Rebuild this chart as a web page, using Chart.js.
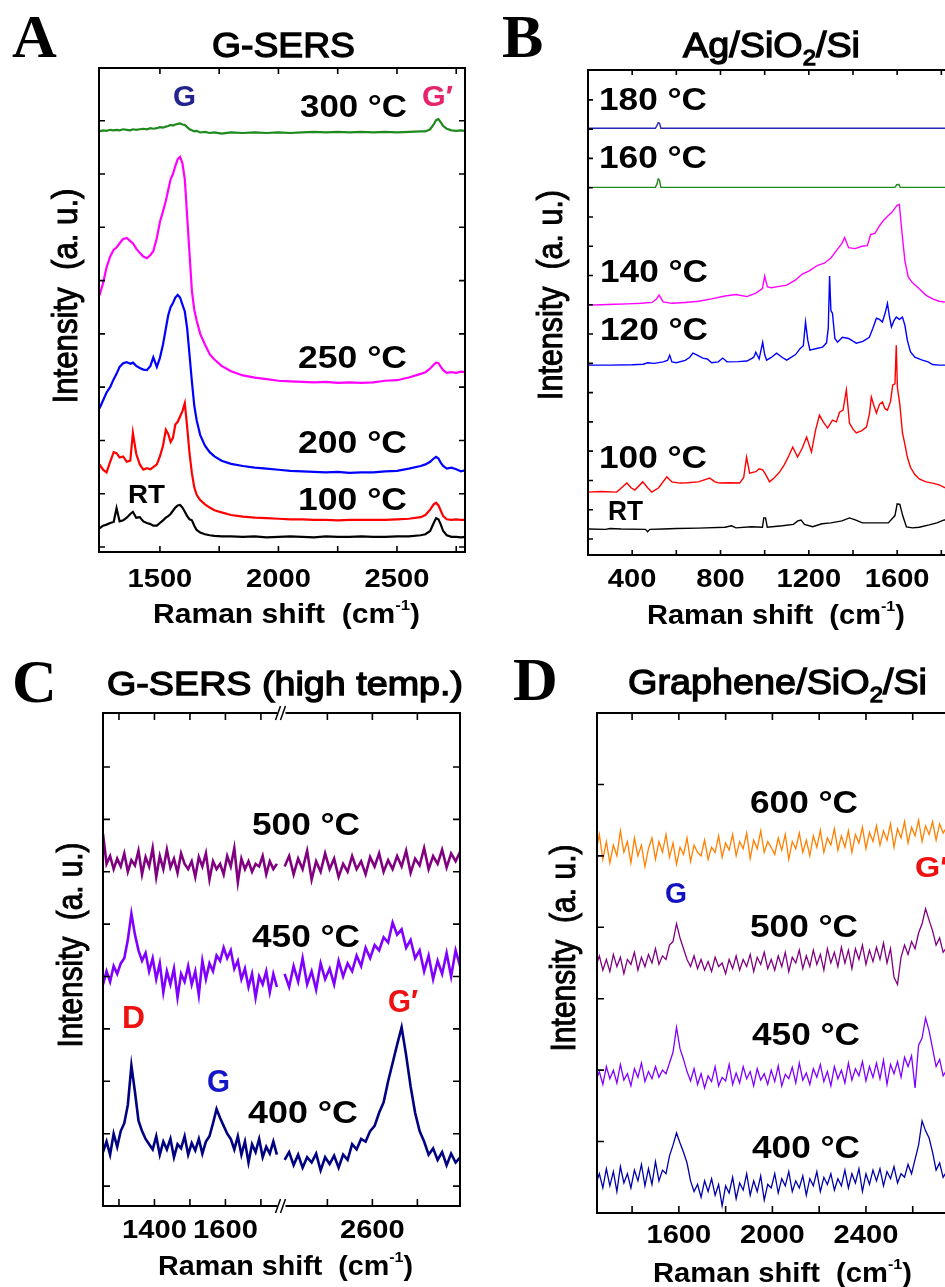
<!DOCTYPE html>
<html>
<head>
<meta charset="utf-8">
<script src="https://cdn.jsdelivr.net/npm/chart.js@4.4.1/dist/chart.umd.min.js"></script>
<style>
  html, body { margin: 0; padding: 0; overflow: hidden; background: #fff; width: 945px; height: 1287px; }
  canvas { position: absolute; }
</style>
</head>
<body>
<canvas id="pa" width="480" height="640" style="left:0;top:0;width:480px;height:640px"></canvas>
<canvas id="pb" width="545" height="640" style="left:480px;top:0;width:545px;height:640px"></canvas>
<canvas id="pc" width="480" height="647" style="left:0;top:640px;width:480px;height:647px"></canvas>
<canvas id="pd" width="545" height="647" style="left:480px;top:640px;width:545px;height:647px"></canvas>
<script>
// ---- panel A: G-SERS (shared x grid, cm-1) ----
const xA = [1245,1260,1275,1290,1305,1317,1330,1345,1360,1375,
  1386,1400,1415,1430,1445,1460,1472,1487,1500,1513,
  1525,1535,1545,1555,1565,1575,1585,1595,1605,1615,
  1625,1635,1645,1655,1670,1690,1710,1730,1760,1800,
  1850,1900,1950,2000,2050,2100,2150,2200,2250,2300,
  2350,2400,2450,2500,2550,2600,2620,2640,2655,2665,
  2675,2685,2695,2710,2730,2750,2770,2787];
const a300 = [7.80,7.82,7.81,7.83,7.82,7.83,7.82,7.84,7.83,7.82,
  7.84,7.83,7.84,7.85,7.84,7.86,7.85,7.86,7.88,7.87,
  7.89,7.90,7.92,7.91,7.93,7.94,7.95,7.93,7.92,7.88,
  7.84,7.82,7.80,7.81,7.78,7.79,7.77,7.78,7.76,7.78,
  7.77,7.78,7.77,7.78,7.77,7.78,7.79,7.78,7.79,7.78,
  7.79,7.78,7.79,7.78,7.79,7.80,7.80,7.84,7.93,8.01,
  8.03,7.97,7.90,7.85,7.82,7.81,7.82,7.81];
const a250 = [4.72,4.95,5.25,5.45,5.58,5.62,5.70,5.78,5.80,5.74,
  5.70,5.60,5.52,5.45,5.42,5.48,5.55,5.80,6.10,6.30,
  6.50,6.70,6.90,7.00,7.15,7.28,7.32,7.20,6.90,6.20,
  5.50,4.80,4.45,4.25,4.00,3.80,3.62,3.52,3.40,3.30,
  3.22,3.18,3.15,3.12,3.11,3.10,3.09,3.10,3.08,3.09,
  3.08,3.09,3.12,3.13,3.18,3.25,3.28,3.35,3.42,3.46,
  3.45,3.38,3.32,3.27,3.28,3.27,3.29,3.28];
const a200 = [2.60,2.75,2.90,3.00,3.15,3.25,3.38,3.45,3.47,3.44,
  3.46,3.40,3.36,3.33,3.32,3.40,3.56,3.38,3.55,3.80,
  4.10,4.35,4.50,4.58,4.68,4.73,4.68,4.55,4.42,4.10,
  3.60,3.10,2.65,2.38,2.10,1.90,1.78,1.70,1.62,1.56,
  1.52,1.49,1.47,1.45,1.43,1.42,1.41,1.40,1.41,1.39,
  1.40,1.40,1.42,1.43,1.47,1.52,1.55,1.60,1.66,1.69,
  1.66,1.58,1.52,1.47,1.49,1.46,1.42,1.44];
const a100 = [1.55,1.45,1.40,1.60,1.78,1.76,1.68,1.70,1.60,1.62,
  2.14,1.75,1.55,1.45,1.48,1.46,1.50,1.55,1.70,1.90,
  2.20,2.12,1.97,2.05,2.30,2.35,2.45,2.55,2.70,2.25,
  1.75,1.38,1.12,0.98,0.88,0.80,0.74,0.69,0.65,0.60,
  0.57,0.55,0.54,0.53,0.52,0.52,0.51,0.51,0.50,0.51,
  0.51,0.51,0.51,0.52,0.53,0.56,0.60,0.70,0.80,0.83,
  0.78,0.68,0.58,0.52,0.51,0.52,0.51,0.51];
const aRT = [0.35,0.40,0.42,0.45,0.47,0.73,0.48,0.50,0.55,0.62,
  0.66,0.55,0.56,0.48,0.45,0.43,0.40,0.40,0.45,0.50,
  0.55,0.58,0.62,0.68,0.74,0.78,0.79,0.74,0.66,0.58,
  0.52,0.50,0.40,0.32,0.27,0.24,0.22,0.21,0.20,0.20,
  0.19,0.20,0.18,0.19,0.20,0.19,0.18,0.20,0.19,0.19,
  0.20,0.19,0.19,0.20,0.20,0.22,0.24,0.30,0.45,0.54,
  0.52,0.42,0.30,0.22,0.19,0.19,0.18,0.19];

// ---- panel B: Ag/SiO2/Si, [cm-1, intensity] ----
const b180 = [[200,14.03],[505,14.03],[512,14.12],[518,14.22],[524,14.2],[530,14.03],[2000,14.03]];
const b160 = [[200,12.01],[505,12.01],[512,12.12],[518,12.3],[524,12.25],[530,12.01],
  [1590,12.01],[1598,12.1],[1608,12.11],[1614,12.01],[2000,12.01]];
const b140 = [[200,7.99],[260,8.0],[320,8.02],[380,8.03],[440,8.05],[490,8.08],[510,8.2],[522,8.33],
  [540,8.1],[580,8.05],[640,8.08],[700,8.12],[760,8.2],[820,8.3],[870,8.35],[920,8.28],[960,8.4],
  [990,8.55],[1000,8.98],[1012,8.62],[1030,8.58],[1060,8.62],[1100,8.67],[1140,8.85],[1170,9.05],
  [1200,9.15],[1240,9.35],[1270,9.42],[1300,9.6],[1330,9.9],[1350,10.1],[1362,10.3],[1380,9.95],
  [1410,9.92],[1440,10.0],[1465,10.02],[1480,10.4],[1500,10.45],[1520,10.7],[1540,10.9],[1560,11.05],
  [1575,11.15],[1590,11.3],[1600,11.4],[1610,11.43],[1620,10.6],[1635,9.5],[1650,8.95],[1670,8.75],
  [1700,8.55],[1730,8.33],[1760,8.2],[1790,8.12],[1820,8.09],[2000,8.05]];
const b120 = [[200,5.94],[300,5.94],[400,5.95],[450,5.97],[470,6.02],[500,6.0],[540,6.05],[560,6.1],
  [570,6.28],[580,6.05],[600,6.02],[640,6.1],[660,6.2],[675,6.35],[690,6.3],[720,6.18],[740,6.15],
  [760,6.02],[790,6.05],[810,6.18],[830,6.05],[880,6.06],[920,6.08],[950,6.2],[960,6.38],[975,6.15],
  [991,6.72],[1000,6.3],[1009,6.11],[1030,6.2],[1054,6.35],[1080,6.2],[1100,6.11],[1140,6.3],
  [1160,6.5],[1175,6.6],[1185,7.41],[1195,6.8],[1205,6.45],[1230,6.5],[1262,6.55],[1280,6.7],
  [1288,7.2],[1294,8.98],[1300,7.8],[1307,7.71],[1318,6.85],[1330,6.72],[1352,6.89],[1380,6.85],
  [1415,6.69],[1445,6.75],[1474,6.89],[1490,7.2],[1506,7.54],[1520,7.5],[1533,7.41],[1545,7.7],
  [1556,8.05],[1565,7.6],[1574,7.24],[1585,7.45],[1596,7.58],[1610,7.5],[1624,7.58],[1635,7.3],
  [1646,6.79],[1660,6.4],[1680,6.21],[1714,6.11],[1740,6.05],[1760,5.96],[1790,5.94],[2000,5.94]];
const b100 = [[200,1.60],[260,1.62],[330,1.60],[376,1.91],[395,1.75],[412,1.67],[448,1.95],[470,1.75],
  [489,1.60],[520,1.75],[557,2.12],[580,1.95],[616,1.91],[650,1.92],[700,1.95],[751,2.08],[775,1.95],
  [796,1.91],[840,1.92],[887,1.91],[905,2.10],[918,2.80],[932,2.25],[960,2.30],[975,2.40],[991,2.36],
  [1005,2.20],[1022,1.95],[1045,2.10],[1068,2.29],[1090,2.55],[1110,2.85],[1127,3.14],[1149,2.80],
  [1170,3.10],[1190,3.48],[1212,2.97],[1230,3.70],[1248,4.23],[1265,4.00],[1285,3.79],[1307,4.06],
  [1325,4.00],[1339,4.33],[1355,4.40],[1370,5.09],[1384,3.96],[1400,3.75],[1415,3.62],[1440,3.70],
  [1461,3.82],[1475,4.30],[1483,4.85],[1495,4.55],[1506,4.30],[1520,4.60],[1533,4.68],[1545,4.45],
  [1556,4.40],[1570,4.70],[1580,5.26],[1590,5.30],[1596,6.62],[1601,5.19],[1612,4.60],[1624,3.62],
  [1636,3.20],[1646,2.80],[1660,2.45],[1680,2.20],[1700,2.05],[1730,1.95],[1760,1.91],[1790,1.85],
  [1820,1.74],[2000,1.70]];
const bRT = [[200,0.34],[280,0.33],[300,0.36],[350,0.34],[460,0.33],[470,0.25],[480,0.33],[540,0.34],
  [600,0.36],[700,0.37],[820,0.40],[850,0.45],[870,0.38],[940,0.42],[990,0.40],[996,0.72],[1004,0.72],
  [1012,0.40],[1080,0.45],[1130,0.50],[1150,0.62],[1165,0.65],[1180,0.50],[1217,0.42],[1260,0.52],
  [1300,0.55],[1350,0.62],[1384,0.72],[1410,0.65],[1443,0.55],[1500,0.55],[1560,0.55],[1590,0.80],
  [1600,1.20],[1612,1.18],[1625,0.80],[1642,0.41],[1669,0.38],[1700,0.40],[1745,0.48],[1780,0.55],
  [1813,0.65],[2000,0.70]];

// ---- panel C: G-SERS high temp., broken axis (left / right segment) ----
const xCL = [1255,1265,1275,1285,1295,1305,1315,1325,1335,1345,
  1355,1365,1375,1385,1395,1405,1415,1425,1435,1445,
  1455,1465,1475,1485,1495,1505,1515,1525,1535,1545,
  1555,1565,1575,1585,1595,1605,1615,1625,1635,1645,
  1655,1665,1675,1685,1695,1705,1715,1725,1735,1745];
const xCR = [2405,2415,2425,2435,2445,2455,2465,2475,2485,2495,
  2505,2515,2525,2535,2545,2555,2565,2575,2585,2595,
  2605,2615,2625,2635,2645,2655,2665,2675,2685,2695,
  2705,2715,2725,2735,2745,2755,2765,2775,2785,2795];
const c500L = [6.72,6.15,6.30,6.05,6.25,6.10,6.35,6.00,6.22,6.12,
  6.40,5.95,6.28,6.10,6.45,5.90,6.30,6.05,6.42,6.08,
  6.25,5.98,6.35,6.15,6.05,6.20,5.90,6.28,6.10,6.35,
  5.85,6.20,6.05,6.15,5.95,6.30,6.10,6.45,5.80,6.25,
  6.05,6.20,6.00,6.15,6.10,6.30,5.95,6.20,6.05,6.15];
const c500R = [6.10,6.30,5.95,6.25,6.05,6.40,5.85,6.20,6.00,6.35,
  6.05,6.25,5.90,6.15,6.00,6.30,6.05,6.20,5.95,6.28,
  6.10,6.35,6.00,6.22,6.05,6.30,6.10,6.40,5.98,6.25,
  6.12,6.45,6.05,6.30,6.15,6.42,6.08,6.35,6.20,6.38];
const c450L = [3.85,4.10,3.90,4.20,4.05,4.25,4.35,4.70,5.20,4.80,
  4.50,4.30,4.45,4.10,4.35,3.95,4.25,3.70,4.10,3.85,
  4.15,3.60,4.05,3.90,4.20,3.85,4.10,3.65,4.30,3.95,
  4.25,4.10,4.40,4.30,4.55,4.35,4.50,4.15,4.30,3.95,
  4.15,3.80,4.05,3.60,4.00,3.85,4.10,3.70,4.05,3.80];
const c450R = [4.05,3.80,4.20,3.90,4.35,3.85,4.10,3.75,4.25,3.95,
  4.15,3.85,4.30,4.00,4.25,4.10,4.40,4.20,4.55,4.35,
  4.60,4.50,4.75,4.65,5.03,4.80,4.90,4.55,4.70,4.35,
  4.50,4.10,4.40,3.95,4.30,4.05,4.45,4.00,4.50,4.20];
const c400L = [0.65,0.85,0.60,1.00,0.75,1.05,1.20,1.55,2.30,1.80,
  1.25,1.05,0.90,0.80,0.70,0.95,0.60,0.85,0.70,0.90,
  0.55,0.80,0.72,0.95,0.60,0.82,0.68,0.90,0.62,0.85,
  0.95,1.20,1.47,1.30,1.15,1.00,0.90,0.70,0.95,0.60,
  0.85,0.45,0.80,0.65,0.90,0.55,0.75,0.62,0.85,0.60];
const c400R = [0.50,0.65,0.40,0.60,0.35,0.55,0.45,0.62,0.30,0.55,
  0.42,0.58,0.35,0.60,0.50,0.80,0.70,0.90,0.85,1.05,
  1.15,1.40,1.60,2.00,2.35,2.70,3.03,2.50,1.90,1.40,
  1.05,0.85,0.60,0.72,0.50,0.65,0.40,0.62,0.45,0.55];

// ---- panel D: Graphene/SiO2/Si ----
const xD = [1245,1260,1275,1290,1305,1320,1335,1350,1365,1380,
  1395,1410,1425,1440,1455,1470,1485,1500,1515,1530,
  1545,1560,1575,1590,1605,1620,1635,1650,1665,1680,
  1695,1710,1725,1740,1755,1770,1785,1800,1815,1830,
  1845,1860,1875,1890,1905,1920,1935,1950,1965,1980,
  1995,2010,2025,2040,2055,2070,2085,2100,2115,2130,
  2145,2160,2175,2190,2205,2220,2235,2250,2265,2280,
  2295,2310,2325,2340,2355,2370,2385,2400,2415,2430,
  2445,2460,2475,2490,2505,2520,2535,2550,2565,2580,
  2595,2610,2625,2640,2655,2670,2685,2700,2715,2730,2745];
const d600 = [5.05,5.30,4.95,5.20,4.90,5.15,5.00,5.35,5.05,5.20,
  4.90,5.25,5.00,5.15,4.85,5.10,5.25,4.95,5.20,5.05,
  5.30,4.98,5.18,4.88,5.12,5.02,5.25,4.92,5.15,5.05,
  5.00,5.22,4.95,5.12,5.05,5.28,4.98,5.18,5.08,5.30,
  5.00,5.20,5.10,5.32,4.96,5.22,5.10,5.35,5.05,5.20,
  5.12,5.02,5.25,5.08,5.30,4.95,5.20,5.10,5.32,5.05,
  5.22,5.00,5.28,5.12,5.36,5.05,5.25,5.15,5.38,5.08,
  5.28,5.12,5.35,5.05,5.30,5.18,5.40,5.10,5.33,5.20,
  5.42,5.15,5.35,5.22,5.45,5.12,5.38,5.25,5.48,5.18,
  5.40,5.28,5.50,5.20,5.42,5.30,5.48,5.22,5.45,5.32,5.40];
const d500 = [3.45,3.60,3.40,3.55,3.38,3.62,3.45,3.58,3.35,3.55,
  3.48,3.65,3.40,3.58,3.45,3.62,3.50,3.70,3.48,3.60,
  3.55,3.75,3.80,4.05,3.85,3.70,3.55,3.45,3.60,3.42,
  3.55,3.40,3.52,3.38,3.58,3.45,3.50,3.35,3.55,3.42,
  3.60,3.40,3.55,3.45,3.62,3.38,3.58,3.48,3.65,3.42,
  3.55,3.40,3.60,3.45,3.65,3.38,3.58,3.50,3.68,3.42,
  3.60,3.45,3.68,3.48,3.62,3.40,3.70,3.50,3.65,3.45,
  3.72,3.50,3.68,3.42,3.70,3.55,3.75,3.48,3.68,3.52,
  3.72,3.55,3.78,3.50,3.70,3.30,3.20,3.58,3.75,3.62,
  3.80,3.70,3.92,4.05,4.26,4.10,3.95,3.75,3.85,3.65,3.72];
const d450 = [1.85,1.98,1.80,2.05,1.88,2.00,1.82,2.08,1.86,1.95,
  1.78,2.02,1.90,2.10,1.84,1.98,1.88,2.05,1.90,2.00,
  1.95,2.10,2.25,2.60,2.30,2.15,1.98,1.85,2.02,1.80,
  1.95,1.75,1.92,1.84,2.05,1.78,1.90,1.85,2.08,1.80,
  1.96,1.82,2.05,1.88,1.98,1.78,2.02,1.86,1.95,1.80,
  2.00,1.84,2.06,1.78,1.94,1.88,2.04,1.82,2.10,1.86,
  1.96,1.80,2.02,1.90,2.08,1.84,1.98,1.78,2.05,1.88,
  2.00,1.82,2.10,1.86,2.02,1.92,2.12,1.85,2.05,1.90,
  2.10,1.88,2.14,1.80,2.08,1.95,2.12,1.90,2.18,2.05,
  2.20,1.75,2.35,2.45,2.73,2.55,2.30,2.05,2.15,1.92,2.00];
const d400 = [0.40,0.55,0.35,0.62,0.38,0.58,0.30,0.65,0.42,0.55,
  0.35,0.60,0.45,0.68,0.38,0.62,0.40,0.72,0.45,0.60,
  0.55,0.80,0.95,1.12,0.98,0.85,0.70,0.45,0.30,0.40,
  0.22,0.45,0.30,0.48,0.25,0.40,0.10,0.38,0.28,0.50,
  0.20,0.42,0.32,0.55,0.25,0.45,0.30,0.52,0.18,0.40,
  0.35,0.55,0.28,0.48,0.38,0.58,0.30,0.45,0.35,0.52,
  0.25,0.48,0.38,0.58,0.30,0.50,0.40,0.55,0.32,0.48,
  0.38,0.60,0.35,0.55,0.42,0.62,0.30,0.55,0.40,0.60,
  0.45,0.62,0.38,0.58,0.48,0.65,0.42,0.55,0.50,0.68,
  0.55,0.75,0.95,1.29,1.15,1.05,0.85,0.60,0.70,0.50,0.58];

// ---------- helpers ----------
const SANS = '"Liberation Sans", Arial, sans-serif';
const SERIF = '"Liberation Serif", "Times New Roman", serif';

function zip(xs, ys) { return xs.map((x, i) => ({ x: x, y: ys[i] })); }
function pairs(arr) { return arr.map(p => ({ x: p[0], y: p[1] })); }

// panel C: right segment of the broken axis is squeezed onto the same scale
function cAxis(x) { return x <= 1760 ? x : 1763 + (x - 2402) * 1.268; }
function brokenSeries(left, right) {
  const l = xCL.map((x, i) => ({ x: cAxis(x), y: left[i] }));
  const r = xCR.map((x, i) => ({ x: cAxis(x), y: right[i] }));
  return l.concat([{ x: 1758, y: null }], r);
}

// draw text fitted between x0..x1 (horizontal stretch only)
function fit(ctx, str, x0, x1, y, font, color, stroke) {
  ctx.save();
  ctx.font = font; ctx.fillStyle = color || '#000'; ctx.strokeStyle = color || '#000';
  ctx.textAlign = 'left'; ctx.textBaseline = 'alphabetic';
  const w = ctx.measureText(str).width;
  ctx.translate(x0, y); ctx.scale((x1 - x0) / w, 1);
  ctx.fillText(str, 0, 0);
  if (stroke) { ctx.lineWidth = stroke; ctx.strokeText(str, 0, 0); }
  ctx.restore();
}

// text runs (sub/superscripts) fitted between x0..x1
function runs(ctx, parts, x0, x1, y, stroke) {
  ctx.save();
  ctx.fillStyle = '#000'; ctx.strokeStyle = '#000';
  ctx.textAlign = 'left'; ctx.textBaseline = 'alphabetic';
  let total = 0;
  parts.forEach(p => { ctx.font = p[1]; total += ctx.measureText(p[0]).width; });
  const sx = (x1 - x0) / total;
  let cx = x0;
  parts.forEach(p => {
    ctx.font = p[1];
    const w = ctx.measureText(p[0]).width;
    ctx.save(); ctx.translate(cx, y + p[2]); ctx.scale(sx, 1);
    ctx.fillText(p[0], 0, 0);
    if (stroke) { ctx.lineWidth = stroke; ctx.strokeText(p[0], 0, 0); }
    ctx.restore();
    cx += w * sx;
  });
  ctx.restore();
}

function yTitle(ctx, bx, cy, len) {
  ctx.save();
  ctx.font = '31px ' + SANS;
  const t = 'Intensity  (a. u.)';
  const w = ctx.measureText(t).width;
  ctx.translate(bx, cy); ctx.rotate(-Math.PI / 2); ctx.scale(len / w, 1.12);
  ctx.textAlign = 'center'; ctx.textBaseline = 'alphabetic';
  ctx.fillStyle = '#000'; ctx.strokeStyle = '#000'; ctx.lineWidth = 0.9;
  ctx.fillText(t, 0, 0);
  ctx.strokeText(t, 0, 0);
  ctx.restore();
}

function xTitle(ctx, x0, x1, y) {
  runs(ctx, [['Raman shift  (cm', 'bold 27px ' + SANS, 0],
             ['-1', 'bold 15px ' + SANS, -13],
             [')', 'bold 27px ' + SANS, 0]], x0, x1, y);
}

function decorate(chart, cfg) {
  const ctx = chart.ctx, a = chart.chartArea;
  const sx = chart.scales.x, sy = chart.scales.y;
  ctx.save();
  ctx.strokeStyle = '#000'; ctx.lineWidth = 2;
  ctx.strokeRect(a.left, a.top, a.right - a.left, a.bottom - a.top);
  ctx.lineWidth = 1.6;
  ctx.beginPath();
  cfg.xt.forEach(v => {
    const px = sx.getPixelForValue(v);
    ctx.moveTo(px, a.bottom); ctx.lineTo(px, a.bottom - cfg.tl);
    ctx.moveTo(px, a.top); ctx.lineTo(px, a.top + cfg.tl);
  });
  cfg.yt.forEach(v => {
    const py = sy.getPixelForValue(v);
    ctx.moveTo(a.left, py); ctx.lineTo(a.left + cfg.tl, py);
    ctx.moveTo(a.right, py); ctx.lineTo(a.right - cfg.tl, py);
  });
  ctx.stroke();
  // tick labels
  ctx.font = 'bold 26px ' + SANS; ctx.fillStyle = '#000';
  cfg.xl.forEach(l => {
    const px = sx.getPixelForValue(l[0]);
    const w = ctx.measureText(l[1]).width * 1.12;
    fit(ctx, l[1], px - w / 2, px + w / 2, cfg.xlY, 'bold 26px ' + SANS);
  });
  if (cfg.extra) cfg.extra(ctx, chart);
  ctx.restore();
}

function panel(id, cfg) {
  return new Chart(document.getElementById(id), {
    type: 'line',
    data: {
      datasets: cfg.series.map(s => ({
        data: s.data, borderColor: s.color, borderWidth: cfg.lw,
        pointRadius: 0, tension: 0, fill: false, spanGaps: false
      }))
    },
    options: {
      responsive: false, animation: false, devicePixelRatio: 1,
      layout: { padding: cfg.pad },
      plugins: { legend: { display: false }, tooltip: { enabled: false } },
      scales: {
        x: { type: 'linear', display: false, min: cfg.x[0], max: cfg.x[1] },
        y: { type: 'linear', display: false, min: cfg.y[0], max: cfg.y[1] }
      }
    },
    plugins: [{ id: 'deco', afterDraw(chart) { decorate(chart, cfg); } }]
  });
}

const T = 'bold 31px ' + SANS;
const L = 'bold 29px ' + SANS;
const TT = '35px ' + SANS;

// ---------- A ----------
panel('pa', {
  x: [1243, 2787], y: [-0.094, 8.99], lw: 2.2, tl: 6,
  pad: { left: 99, top: 68, right: 15, bottom: 88 },
  series: [
    { data: zip(xA, a300), color: '#1e8a1e' },
    { data: zip(xA, a250), color: '#ff00ff' },
    { data: zip(xA, a200), color: '#0000ff' },
    { data: zip(xA, a100), color: '#ff0000' },
    { data: zip(xA, aRT), color: '#000000' }
  ],
  xt: [1500, 1750, 2000, 2250, 2500, 2750], yt: [0, 1, 2, 3, 4, 5, 6, 7, 8],
  xl: [[1500, '1500'], [2000, '2000'], [2500, '2500']], xlY: 587,
  extra(ctx) {
    ctx.font = 'bold 62px ' + SERIF; ctx.fillStyle = '#000'; ctx.fillText('A', 12, 57);
    fit(ctx, 'G-SERS', 212, 355, 57, TT, '#000', 1.3);
    fit(ctx, 'G', 173, 196, 106, L, '#23238e');
    fit(ctx, '300 °C', 300, 407, 117, T);
    fit(ctx, 'G′', 422, 453, 106, L, '#e6246e');
    fit(ctx, '250 °C', 298, 407, 368, T);
    fit(ctx, '200 °C', 298, 407, 453, T);
    fit(ctx, '100 °C', 298, 407, 510, T);
    fit(ctx, 'RT', 128, 165, 503, 'bold 25px ' + SANS);
    xTitle(ctx, 153, 420, 623);
    yTitle(ctx, 77, 296, 215);
  }
});

// ---------- B ----------
panel('pb', {
  x: [200, 2000], y: [-0.547, 16.02], lw: 1.4, tl: 5,
  pad: { left: 108, top: 70, right: 39.5, bottom: 85 },
  series: [
    { data: pairs(b180), color: '#2828b4' },
    { data: pairs(b160), color: '#1e8c1e' },
    { data: pairs(b140), color: '#ff00ff' },
    { data: pairs(b120), color: '#0000ff' },
    { data: pairs(b100), color: '#ff0000' },
    { data: pairs(bRT), color: '#000000' }
  ],
  xt: [400, 600, 800, 1000, 1200, 1400, 1600, 1800],
  yt: [0, 1, 2, 3, 4, 5, 6, 7, 8, 9, 10, 11, 12, 13, 14, 15],
  xl: [[400, '400'], [800, '800'], [1200, '1200'], [1600, '1600']], xlY: 587,
  extra(ctx) {
    ctx.font = 'bold 62px ' + SERIF; ctx.fillStyle = '#000'; ctx.fillText('B', 22, 57);
    runs(ctx, [['Ag/SiO', TT, 0], ['2', '22px ' + SANS, 8], ['/Si', TT, 0]], 203, 380, 57, 1.3);
    fit(ctx, '180 °C', 119, 227, 110, T);
    fit(ctx, '160 °C', 119, 227, 168, T);
    fit(ctx, '140 °C', 120, 228, 282, T);
    fit(ctx, '120 °C', 120, 228, 340, T);
    fit(ctx, '100 °C', 119, 227, 468, T);
    fit(ctx, 'RT', 128, 163, 520, 'bold 28px ' + SANS);
    xTitle(ctx, 167, 425, 624);
    yTitle(ctx, 82, 295, 210);
  }
});

// ---------- C ----------
panel('pc', {
  x: [1255, 2261], y: [-0.38, 9.03], lw: 2.6, tl: 7,
  pad: { left: 103, top: 73, right: 20, bottom: 81 },
  series: [
    { data: brokenSeries(c500L, c500R), color: '#800080' },
    { data: brokenSeries(c450L, c450R), color: '#8000ff' },
    { data: brokenSeries(c400L, c400R), color: '#000080' }
  ],
  xt: [1300, 1400, 1500, 1600, 1700, cAxis(2500), cAxis(2600), cAxis(2700)],
  yt: [0, 1, 2, 3, 4, 5, 6, 7, 8],
  xl: [[1400, '1400'], [1600, '1600'], [cAxis(2600), '2600']], xlY: 598,
  extra(ctx, chart) {
    const a = chart.chartArea;
    const bx = chart.scales.x.getPixelForValue(1758);
    [a.top, a.bottom].forEach(by => {
      ctx.fillStyle = '#fff'; ctx.fillRect(bx - 4, by - 2, 8, 4);
      ctx.strokeStyle = '#000'; ctx.lineWidth = 1.5;
      ctx.beginPath();
      ctx.moveTo(bx - 6, by + 7); ctx.lineTo(bx - 1, by - 7);
      ctx.moveTo(bx - 1, by + 7); ctx.lineTo(bx + 4, by - 7);
      ctx.stroke();
    });
    ctx.font = 'bold 62px ' + SERIF; ctx.fillStyle = '#000'; ctx.fillText('C', 12, 62);
    fit(ctx, 'G-SERS (high temp.)', 107, 463, 55, '33px ' + SANS, '#000', 1.3);
    fit(ctx, '500 °C', 252, 360, 195, T);
    fit(ctx, '450 °C', 252, 360, 307, T);
    fit(ctx, 'D', 122, 145, 388, 'bold 31px ' + SANS, '#ee1111');
    fit(ctx, 'G', 207, 230, 452, 'bold 31px ' + SANS, '#1515c8');
    fit(ctx, '400 °C', 248, 358, 483, T);
    fit(ctx, 'G′', 388, 418, 372, 'bold 31px ' + SANS, '#ee1111');
    xTitle(ctx, 158, 413, 635);
    yTitle(ctx, 82, 305, 205);
  }
});

// ---------- D ----------
panel('pd', {
  x: [1250, 2800], y: [0, 7], lw: 1.3, tl: 7,
  pad: { left: 117, top: 73, right: 65.5, bottom: 74 },
  series: [
    { data: zip(xD, d600), color: '#ff8000' },
    { data: zip(xD, d500), color: '#800080' },
    { data: zip(xD, d450), color: '#8000ff' },
    { data: zip(xD, d400), color: '#0000a8' }
  ],
  xt: [1400, 1600, 1800, 2000, 2200, 2400, 2600], yt: [1, 2, 3, 4, 5, 6],
  xl: [[1600, '1600'], [2000, '2000'], [2400, '2400']], xlY: 603,
  extra(ctx) {
    ctx.font = 'bold 62px ' + SERIF; ctx.fillStyle = '#000'; ctx.fillText('D', 33, 60);
    runs(ctx, [['Graphene/SiO', TT, 0], ['2', '22px ' + SANS, 8], ['/Si', TT, 0]], 148, 447, 54, 1.3);
    fit(ctx, '600 °C', 270, 378, 173, T);
    fit(ctx, 'G', 185, 207, 263, L, '#1212c0');
    fit(ctx, '500 °C', 270, 378, 297, T);
    fit(ctx, 'G′', 435, 468, 237, L, '#ee1111');
    fit(ctx, '450 °C', 272, 380, 405, T);
    fit(ctx, '400 °C', 272, 380, 518, T);
    xTitle(ctx, 173, 432, 642);
    yTitle(ctx, 95, 308, 207);
  }
});
</script>
</body>
</html>
